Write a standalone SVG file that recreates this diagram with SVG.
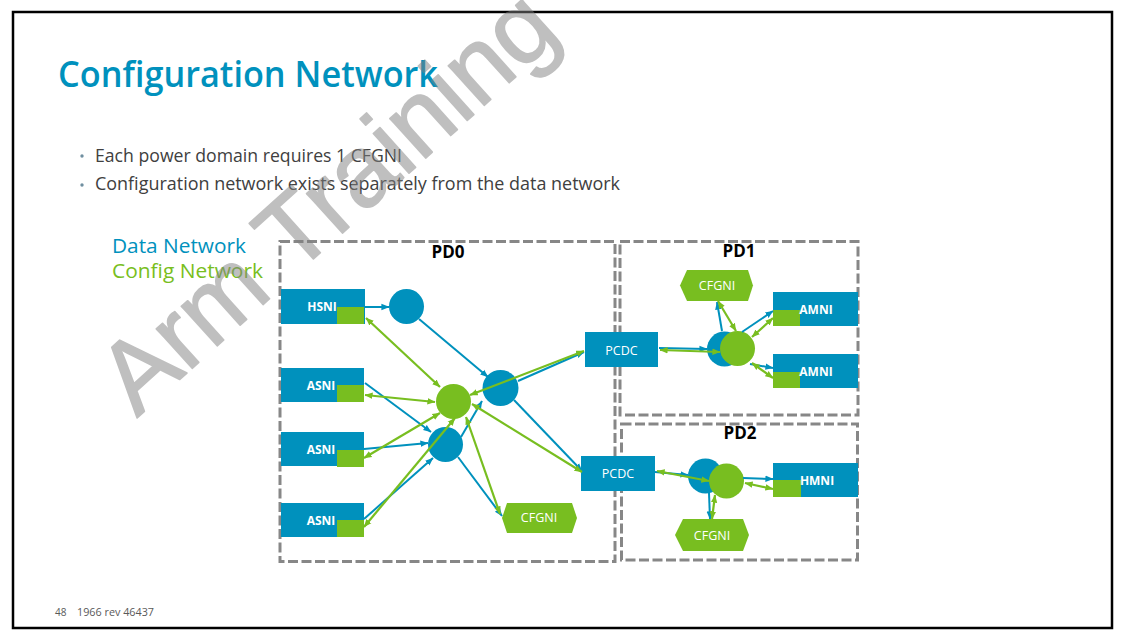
<svg xmlns="http://www.w3.org/2000/svg" width="1131" height="637" viewBox="0 0 1131 637">
<style>
.ff{font-family:"Open Sans","Liberation Sans",sans-serif}
.pd{fill:none;stroke:#878787;stroke-width:3;stroke-dasharray:10 3.5}
.pdl{font-family:"Open Sans","Liberation Sans",sans-serif;font-weight:700;font-size:17px;fill:#000;text-anchor:middle}
.nb{fill:#0091BD}
.ng{fill:#78BE20}
.tb{font-family:"Open Sans","Liberation Sans",sans-serif;font-weight:700;font-size:12px;fill:#fff;text-anchor:middle}
.tn{font-family:"Open Sans","Liberation Sans",sans-serif;font-size:12.5px;fill:#fff;text-anchor:middle}
.cb{stroke:#0091BD;stroke-width:2;fill:none;marker-end:url(#ab)}
.cg{stroke:#78BE20;stroke-width:2.2;fill:none;marker-start:url(#ag);marker-end:url(#ag)}
</style>
<defs>
<marker id="ab" viewBox="0 0 10 10" refX="9.5" refY="5" markerWidth="8" markerHeight="8" markerUnits="userSpaceOnUse" orient="auto-start-reverse"><path d="M0,1 L10,5 L0,9 z" fill="#0091BD"/></marker>
<marker id="ag" viewBox="0 0 10 10" refX="9.5" refY="5" markerWidth="8" markerHeight="8" markerUnits="userSpaceOnUse" orient="auto-start-reverse"><path d="M0,1 L10,5 L0,9 z" fill="#78BE20"/></marker>
</defs>
<rect width="1131" height="637" fill="#fff"/>
<rect x="13" y="12" width="1099" height="616" fill="none" stroke="#000" stroke-width="2.5"/>

<g id="title">
<text class="ff" x="58" y="87" font-size="36" font-weight="600" fill="#0091BD" textLength="380" lengthAdjust="spacingAndGlyphs">Configuration Network</text>
</g>
<g id="bullets" class="ff" font-size="18" fill="#404040">
<circle cx="82" cy="156" r="1.7" fill="#6f8fa0"/>
<text x="95" y="162" textLength="307" lengthAdjust="spacingAndGlyphs">Each power domain requires 1 CFGNI</text>
<circle cx="82" cy="185" r="1.7" fill="#6f8fa0"/>
<text x="95" y="190" textLength="525" lengthAdjust="spacingAndGlyphs">Configuration network exists separately from the data network</text>
</g>
<g id="legend" class="ff" font-size="20.5">
<text x="112" y="253" fill="#0091BD" textLength="134" lengthAdjust="spacingAndGlyphs">Data Network</text>
<text x="112" y="278" fill="#78BE20" textLength="151" lengthAdjust="spacingAndGlyphs">Config Network</text>
</g>

<g id="PD0">
<rect class="pd" x="280" y="241.5" width="335" height="320"/>
<text class="pdl" x="448" y="258">PD0</text>
</g>
<g id="PD1">
<rect class="pd" x="620" y="241.5" width="238" height="173.5"/>
<text class="pdl" x="739" y="257">PD1</text>
</g>
<g id="PD2">
<rect class="pd" x="621.5" y="424" width="236" height="136"/>
<text class="pdl" x="740" y="439">PD2</text>
</g>

<g id="HSNI"><rect class="nb" x="281" y="289" width="84" height="35"/><rect class="ng" x="337" y="307" width="27" height="17"/><text class="tb" x="322" y="311">HSNI</text></g>
<g id="ASNI1"><rect class="nb" x="281" y="368" width="83" height="34"/><rect class="ng" x="337" y="385" width="27" height="17"/><text class="tb" x="321" y="390">ASNI</text></g>
<g id="ASNI2"><rect class="nb" x="281" y="432" width="83" height="34"/><rect class="ng" x="337" y="450" width="27" height="17"/><text class="tb" x="321" y="454">ASNI</text></g>
<g id="ASNI3"><rect class="nb" x="281" y="503" width="83" height="34"/><rect class="ng" x="337" y="520" width="27" height="17"/><text class="tb" x="321" y="525">ASNI</text></g>
<g id="R0a"><circle class="nb" cx="406.5" cy="306.5" r="17.5"/></g>
<g id="R0b"><circle class="nb" cx="500.5" cy="388" r="18"/></g>
<g id="R0c"><circle class="nb" cx="445.5" cy="444.5" r="17.5"/></g>
<g id="C0"><circle class="ng" cx="453.5" cy="401.5" r="17.5"/></g>
<g id="CFGNI0"><polygon class="ng" points="507,503 572,503 577,518 572,533 507,533 502,518"/><text class="tn" x="539" y="522">CFGNI</text></g>
<g id="PCDC1"><rect class="nb" x="585" y="332" width="73" height="35"/><text class="tn" x="621.5" y="355">PCDC</text></g>
<g id="PCDC2"><rect class="nb" x="581" y="456" width="74" height="35"/><text class="tn" x="618" y="478">PCDC</text></g>

<g id="R1"><circle class="nb" cx="724.5" cy="349" r="17.5"/></g>
<g id="C1"><circle class="ng" cx="737.5" cy="348.5" r="17.5"/></g>
<g id="CFGNI1"><polygon class="ng" points="687,270 748,270 753,285.5 748,301 687,301 680,285.5"/><text class="tn" x="717" y="290">CFGNI</text></g>
<g id="AMNI1"><rect class="nb" x="773" y="292" width="85" height="34"/><rect class="ng" x="773" y="310" width="27" height="16"/><text class="tb" x="816" y="314">AMNI</text></g>
<g id="AMNI2"><rect class="nb" x="773" y="354" width="85" height="34"/><rect class="ng" x="773" y="372" width="27" height="16"/><text class="tb" x="816" y="376">AMNI</text></g>

<g id="R2"><circle class="nb" cx="705.5" cy="476" r="17.5"/></g>
<g id="C2"><circle class="ng" cx="726.5" cy="481" r="17.5"/></g>
<g id="CFGNI2"><polygon class="ng" points="683,519 743,519 749,535 743,551 683,551 675,535"/><text class="tn" x="712" y="540">CFGNI</text></g>
<g id="HMNI"><rect class="nb" x="773" y="463" width="85" height="34"/><rect class="ng" x="773" y="480" width="28" height="17"/><text class="tb" x="817" y="485">HMNI</text></g>

<g id="connectors">
<line class="cb" x1="365" y1="307" x2="389" y2="307"/>
<line class="cb" x1="419" y1="319" x2="488" y2="377"/>
<line class="cb" x1="365" y1="383" x2="431" y2="432"/>
<line class="cb" x1="364" y1="449" x2="428" y2="443"/>
<line class="cb" x1="364" y1="519" x2="433" y2="458"/>
<line class="cb" x1="461" y1="437" x2="482" y2="401"/>
<line class="cb" x1="458" y1="457" x2="502" y2="516"/>
<line class="cb" x1="514" y1="400" x2="582" y2="471"/>
<line class="cb" x1="518" y1="381" x2="584" y2="352"/>
<line class="cb" x1="659" y1="348" x2="707" y2="349"/>
<line class="cb" x1="722" y1="331" x2="717" y2="302"/>
<line class="cb" x1="742" y1="332" x2="773" y2="311"/>
<line class="cb" x1="750" y1="364" x2="773" y2="368"/>
<line class="cb" x1="655" y1="472" x2="688" y2="475"/>
<line class="cb" x1="743" y1="478" x2="773" y2="479"/>
<line class="cb" x1="709" y1="493" x2="710" y2="519"/>

<line class="cg" x1="366" y1="318" x2="440" y2="387"/>
<line class="cg" x1="365" y1="395" x2="435" y2="402"/>
<line class="cg" x1="364" y1="458" x2="440" y2="413"/>
<line class="cg" x1="364" y1="527" x2="455" y2="418"/>
<line class="cg" x1="470" y1="395" x2="584" y2="351"/>
<line class="cg" x1="472" y1="404" x2="582" y2="472"/>
<line class="cg" x1="466" y1="417" x2="500" y2="514"/>
<line class="cg" x1="660" y1="350" x2="720" y2="352"/>
<line class="cg" x1="718" y1="301" x2="736" y2="331"/>
<line class="cg" x1="752" y1="337" x2="773" y2="318"/>
<line class="cg" x1="752" y1="363" x2="773" y2="378"/>
<line class="cg" x1="657" y1="471" x2="709" y2="481"/>
<line class="cg" x1="745" y1="483" x2="773" y2="489"/>
<line class="cg" x1="715" y1="495" x2="712" y2="519"/>
</g>

<g id="footer" class="ff" font-size="10" fill="#595959">
<text x="55" y="616">48</text>
<text x="77" y="616" textLength="77" lengthAdjust="spacingAndGlyphs">1966 rev 46437</text>
</g>
<g id="watermark" opacity="0.5">
<text transform="translate(137,418) rotate(-42)" font-family="Liberation Sans, Arial, sans-serif" font-size="101" fill="#808080" stroke="#808080" stroke-width="1.6" stroke-linejoin="round">Arm Training</text>
</g>
</svg>
